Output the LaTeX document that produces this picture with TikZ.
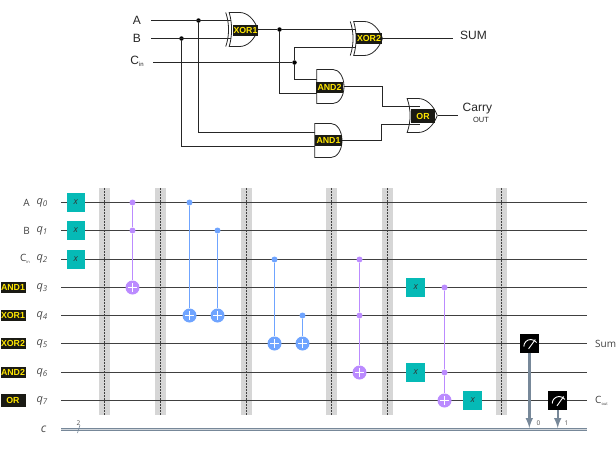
\documentclass[tikz,border=0pt]{standalone}
\usepackage{fontspec}
\setmainfont{Liberation Sans}
\newfontfamily\qfont{Open Sans}
\usetikzlibrary{arrows,shapes.gates.logic.US}
\definecolor{wirecol}{HTML}{404040}
\definecolor{tealcol}{HTML}{05BAB6}
\definecolor{purplecol}{HTML}{BB8BFF}
\definecolor{bluecol}{HTML}{6FA4FF}
\definecolor{barcol}{HTML}{D6D6D6}
\definecolor{cregcol}{HTML}{778899}
\definecolor{tagcol}{HTML}{FFE600}
\definecolor{tagbg}{HTML}{1A1A14}
\newcommand{\sz}[1]{\fontsize{#1}{#1}\selectfont}
\tikzset{
  line/.style={line width=1.2pt, color=black!85},
  xorgate/.style={xor gate US, draw=black!85, logic gate inputs=nn, fill=white, minimum height=34pt, inner sep=0pt, line width=.8pt, xscale=.62, transform shape},
  andgate/.style={and gate US, draw=black!85, logic gate inputs=nn, fill=white, minimum height=34pt, inner sep=0pt, line width=.8pt, xscale=.64, transform shape},
  orgate/.style={or gate US, draw=black!85, logic gate inputs=nn, fill=white, minimum height=34pt, inner sep=0pt, line width=.8pt, xscale=.65, transform shape},
  tag/.style={fill=tagbg, text=tagcol, inner sep=0pt, minimum width=25pt, minimum height=11pt, font=\sz{8.8}\bfseries},
  dot/.style={circle, fill=black, inner sep=0pt, minimum size=4.5pt},
  toptext/.style={text=black!85, font=\sz{12}, inner sep=0pt},
  qtext/.style={text=black!70, font=\sz{11}\qfont\itshape, inner sep=0pt},
  sidetext/.style={text=black!75, font=\sz{10}\qfont, inner sep=0pt},
  wire/.style={line width=1.5pt, color=wirecol},
  barrier/.style={fill=barcol, inner sep=0pt, minimum width=11pt, minimum height=227pt},
  barline/.style={line width=.5pt, dash pattern=on 2pt off 1pt, color=black!75},
  xgate/.style={fill=tealcol, inner sep=0pt, minimum size=18.5pt, text=black!80, font=\sz{9}\qfont\itshape},
  ctrlp/.style={circle, fill=purplecol, inner sep=0pt, minimum size=6pt},
  ctrlb/.style={circle, fill=bluecol, inner sep=0pt, minimum size=6pt},
  target/.style={circle, inner sep=0pt, minimum size=14pt, path picture={
    \draw[white, line width=1.1pt] (path picture bounding box.center) +(-4.5,0) -- +(4.5,0);
    \draw[white, line width=1.1pt] (path picture bounding box.center) +(0,-4.5) -- +(0,4.5);}},
  targetp/.style={target, fill=purplecol},
  targetb/.style={target, fill=bluecol},
  linkp/.style={line width=1.2pt, color=purplecol},
  linkb/.style={line width=1.2pt, color=bluecol},
  meter/.style={fill=black, inner sep=0pt, minimum size=18.5pt, path picture={
    \draw[white, line width=.9pt] (path picture bounding box.center) +(-5.5,3) arc[start angle=180, end angle=325, radius=7];
    \draw[white, line width=.9pt] (path picture bounding box.center) +(-.7,5.3) -- +(6,-4);}},
  readout/.style={arrows={-latex}, line width=2.4pt, color=cregcol},
  bitnum/.style={text=black!70, font=\sz{6.5}\qfont, inner sep=0pt}
}
\begin{document}
\begin{tikzpicture}[x=1pt,y=-1pt]
\useasboundingbox (0,0) rectangle (616,451);

\node[toptext] at (137,20) (labela) {A};
\node[toptext] at (137,38) (labelb) {B};
\node[toptext] at (137,61) (labelc) {C\raisebox{-.3ex}{\sz{6}in}};
\coordinate (ina) at (151,20.5);
\coordinate (inb) at (151,38.5);
\coordinate (inc) at (153,62.5);
\coordinate (outsum) at (453,38.5);
\coordinate (outcarry) at (458,115.5);
\coordinate (xoronea) at (241,20.5);
\coordinate (xoroneb) at (241,38.5);
\coordinate (xortwoa) at (366,29.5);
\coordinate (xortwob) at (366,47.5);
\coordinate (andtwoa) at (330,79.5);
\coordinate (andtwob) at (330,93.5);
\coordinate (andonea) at (328,132.5);
\coordinate (andoneb) at (328,146.5);
\coordinate (orouta) at (420,106.5);
\coordinate (oroutb) at (420,124.5);
\node[dot] at (198.5,20.5) (dota) {};
\node[dot] at (181.5,38.5) (dotb) {};
\node[dot] at (294.5,62.5) (dotc) {};
\node[dot] at (279.5,29.5) (dotx) {};

\draw[line] (ina) -- (xoronea);
\draw[line] (inb) -- (xoroneb);
\draw[line] (inc) -- (dotc);
\draw[line] (dota) |- (andonea);
\draw[line] (dotb) |- (andoneb);
\draw[line] (dotx) |- (andtwob);
\draw[line] (dotc) |- (xortwob);
\draw[line] (dotc) |- (andtwoa);
\draw[line] (dotx) -- (xortwoa);

\node[xorgate] at (241.5,29.5) (xorone) {};
\node[xorgate] at (366,38.5) (xortwo) {};
\node[andgate] at (329.5,86.5) (andtwo) {};
\node[andgate] at (327.5,140.5) (andone) {};
\node[orgate] at (420,115.5) (orout) {};

\draw[line] (xorone.output) -- (dotx);
\draw[line] (xortwo.output) -- (outsum);
\draw[line] (andtwo.output) -- ++(38.5,0) |- (orouta);
\draw[line] (andone.output) -- ++(39,0) |- (oroutb);
\draw[line] (orout.output) -- (outcarry);

\node[tag] at (245.5,30.5) (tagxorone) {XOR1};
\node[tag, minimum width=26pt] at (369,38) (tagxortwo) {XOR2};
\node[tag, minimum width=27pt] at (329.5,87) (tagandtwo) {AND2};
\node[tag, minimum width=27pt] at (328.5,140) (tagandone) {AND1};
\node[tag, minimum width=24pt, minimum height=14pt] at (423,116) (tagor) {OR};
\node[toptext, anchor=west] at (460,35) (sumtext) {SUM};
\node[toptext, anchor=west] at (462.5,108.5) (carrytext) {Carry};
\node[toptext, font=\sz{7.5}] at (481,120) (outtext) {OUT};

\node[barrier] at (104,301.5) (barone) {};
\node[barrier] at (160.7,301.5) (bartwo) {};
\node[barrier] at (246,301.5) (barthree) {};
\node[barrier] at (331.3,301.5) (barfour) {};
\node[barrier] at (387.7,301.5) (barfive) {};
\node[barrier] at (501.5,301.5) (barsix) {};

\coordinate (start0) at (61,202.5);
\coordinate (start1) at (61,230.5);
\coordinate (start2) at (61,259.5);
\coordinate (start3) at (61,287.5);
\coordinate (start4) at (61,315.5);
\coordinate (start5) at (61,343.5);
\coordinate (start6) at (61,372.5);
\coordinate (start7) at (61,400.5);
\coordinate (startc) at (61,429);
\coordinate (end0) at (586.5,202.5);
\coordinate (end1) at (586.5,230.5);
\coordinate (end2) at (586.5,259.5);
\coordinate (end3) at (586.5,287.5);
\coordinate (end4) at (586.5,315.5);
\coordinate (end5) at (586.5,343.5);
\coordinate (end6) at (586.5,372.5);
\coordinate (end7) at (586.5,400.5);
\coordinate (endc) at (586.5,429);
\draw[wire] (start0) -- (end0);
\draw[wire] (start1) -- (end1);
\draw[wire] (start2) -- (end2);
\draw[wire] (start3) -- (end3);
\draw[wire] (start4) -- (end4);
\draw[wire] (start5) -- (end5);
\draw[wire] (start6) -- (end6);
\draw[wire] (start7) -- (end7);
\draw[line width=3pt, color=cregcol] (startc) -- (endc);
\draw[line width=.9pt, color=cregcol!35] (startc) -- (endc);

\draw[barline] (barone.north) -- (barone.south);
\draw[barline] (bartwo.north) -- (bartwo.south);
\draw[barline] (barthree.north) -- (barthree.south);
\draw[barline] (barfour.north) -- (barfour.south);
\draw[barline] (barfive.north) -- (barfive.south);
\draw[barline] (barsix.north) -- (barsix.south);

\node[sidetext, anchor=east] at (30,203) (namea) {A};
\node[sidetext, anchor=east] at (30,231) (nameb) {B};
\node[sidetext, anchor=east] at (30,259) (namec) {C\raisebox{-.4ex}{\sz{4}in}};
\node[tag] at (13,287.5) (nameandone) {AND1};
\node[tag] at (13,315.5) (namexorone) {XOR1};
\node[tag] at (13,343.5) (namexortwo) {XOR2};
\node[tag] at (13,372.5) (nameandtwo) {AND2};
\node[tag, minimum height=13pt] at (13,400.5) (nameor) {OR};
\node[qtext] at (42,203) (qzero) {q\raisebox{-.3ex}{\sz{8}0}};
\node[qtext] at (42,231) (qone) {q\raisebox{-.3ex}{\sz{8}1}};
\node[qtext] at (42,259.3) (qtwo) {q\raisebox{-.3ex}{\sz{8}2}};
\node[qtext] at (42,287.7) (qthree) {q\raisebox{-.3ex}{\sz{8}3}};
\node[qtext] at (42,316) (qfour) {q\raisebox{-.3ex}{\sz{8}4}};
\node[qtext] at (42,344) (qfive) {q\raisebox{-.3ex}{\sz{8}5}};
\node[qtext] at (42,372.7) (qsix) {q\raisebox{-.3ex}{\sz{8}6}};
\node[qtext] at (42,401) (qseven) {q\raisebox{-.3ex}{\sz{8}7}};
\node[qtext, font=\sz{12}\qfont\itshape] at (43.5,429) (cname) {c};
\node[sidetext, anchor=west] at (595,344) (sumname) {Sum};
\node[sidetext, anchor=west] at (595,401) (coutname) {C\raisebox{-.4ex}{\sz{4}out}};
\node[bitnum] at (78.5,423.5) (cwidth) {2};
\coordinate (slasha) at (80,425);
\coordinate (slashb) at (77.5,433);
\draw[line width=.6pt, color=cregcol] (slasha) -- (slashb);

\node[xgate] at (75.8,202.5) (xa) {x};
\node[xgate] at (75.8,230.5) (xb) {x};
\node[xgate] at (75.8,259.5) (xc) {x};
\node[xgate] at (415.7,287.5) (xd) {x};
\node[xgate] at (415.7,372.5) (xe) {x};
\node[xgate] at (472.7,400.5) (xf) {x};

\node[ctrlp] at (132.5,202.5) (ctrla) {};
\node[ctrlp] at (132.5,230.5) (ctrlb) {};
\node[targetp] at (132.5,287.5) (nota) {};
\draw[linkp] (ctrla) -- (ctrlb);
\draw[linkp] (ctrlb) -- (nota);
\node[ctrlb] at (189.5,202.5) (ctrlc) {};
\node[targetb] at (189.5,315.5) (notb) {};
\draw[linkb] (ctrlc) -- (notb);
\node[ctrlb] at (217.5,230.5) (ctrld) {};
\node[targetb] at (217.5,315.5) (notc) {};
\draw[linkb] (ctrld) -- (notc);
\node[ctrlb] at (274.5,259.5) (ctrle) {};
\node[targetb] at (274.5,343.5) (notd) {};
\draw[linkb] (ctrle) -- (notd);
\node[ctrlb] at (302.5,315.5) (ctrlf) {};
\node[targetb] at (302.5,343.5) (note) {};
\draw[linkb] (ctrlf) -- (note);
\node[ctrlp] at (359.5,259.5) (ctrlg) {};
\node[ctrlp] at (359.5,315.5) (ctrlh) {};
\node[targetp] at (359.5,372.5) (notf) {};
\draw[linkp] (ctrlg) -- (ctrlh);
\draw[linkp] (ctrlh) -- (notf);
\node[ctrlp] at (444.5,287.5) (ctrli) {};
\node[ctrlp] at (444.5,372.5) (ctrlj) {};
\node[targetp] at (444.5,400.5) (notg) {};
\draw[linkp] (ctrli) -- (ctrlj);
\draw[linkp] (ctrlj) -- (notg);

\node[meter] at (529.3,343.5) (measa) {};
\node[meter] at (557.7,400.5) (measb) {};
\coordinate (reada) at (529.3,428);
\coordinate (readb) at (557.7,428);
\draw[readout] (measa) -- (reada);
\draw[readout] (measb) -- (readb);
\node[bitnum] at (538.5,423.5) (bitzero) {0};
\node[bitnum] at (566.5,423.5) (bitone) {1};
\end{tikzpicture}
\end{document}
